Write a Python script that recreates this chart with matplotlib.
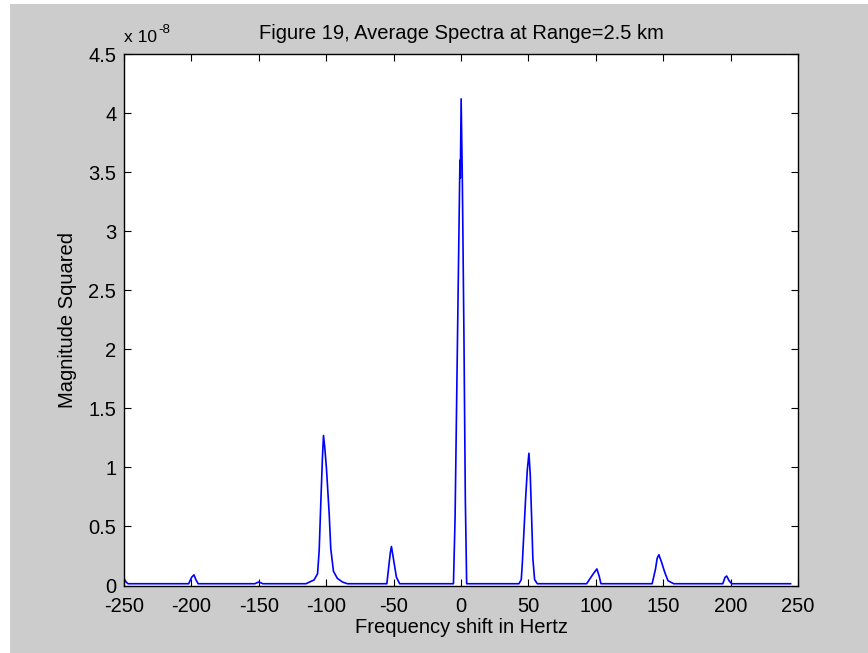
import matplotlib
matplotlib.use("Agg")
import matplotlib.pyplot as plt
from matplotlib.patches import Rectangle

plt.rcParams["font.family"] = ["Liberation Sans", "DejaVu Sans"]

# Averaged spectrum, magnitude squared in units of 1e-8
freq_hz = [
    -250, -248.5, -247,
    -202, -199.8, -198.1, -196.7, -195,
    -153, -150, -147,
    -115, -109, -106.4, -105.2, -104, -102.8, -102, -101, -99.8, -97.8,
    -96.6, -94.6, -91.7, -88, -84.3,
    -55, -53.6, -52.4, -51.6, -49.9, -47.9, -45.5,
    -5.6, -4.4, -3.2, -2.0, -0.8, -0.5, 0.1, 1.0, 2.2, 3.2, 4.2,
    43, 44.7, 45.5, 46.7, 47.9, 49.2, 50.4, 51.4, 52.4, 53.3, 54.6, 56.6,
    93.2, 96.4, 98.8, 100.8, 102.5, 103.8,
    141.8, 144.3, 145.5, 146.8, 148.7, 151.2, 153.6, 157.8,
    194.2, 195.9, 197.1, 198.9, 200.8,
    244.5,
]
mag_sq_e8 = [
    0.06, 0.03, 0.015,
    0.015, 0.07, 0.09, 0.05, 0.015,
    0.015, 0.03, 0.015,
    0.015, 0.047, 0.10, 0.30, 0.70, 1.08, 1.27, 1.16, 0.99, 0.61,
    0.31, 0.12, 0.06, 0.03, 0.015,
    0.015, 0.16, 0.28, 0.33, 0.21, 0.07, 0.015,
    0.015, 0.57, 1.585, 2.60, 3.60, 3.45, 4.12, 3.43, 2.09, 0.74, 0.015,
    0.015, 0.05, 0.19, 0.46, 0.73, 0.98, 1.12, 0.93, 0.57, 0.23, 0.05, 0.015,
    0.015, 0.07, 0.11, 0.14, 0.08, 0.015,
    0.015, 0.14, 0.23, 0.26, 0.20, 0.11, 0.04, 0.015,
    0.015, 0.07, 0.08, 0.04, 0.015,
    0.015,
]

x_ticks = [-250, -200, -150, -100, -50, 0, 50, 100, 150, 200, 250]
y_ticks = [0, 0.5, 1, 1.5, 2, 2.5, 3, 3.5, 4, 4.5]
y_tick_labels = ["0", "0.5", "1", "1.5", "2", "2.5", "3", "3.5", "4", "4.5"]

W, H = 868, 653
fig = plt.figure(figsize=(W / 100, H / 100), dpi=100, facecolor="white")
# grey window background
fig.patches.append(Rectangle((10 / W, 0), 1 - 10 / W, 1 - 4 / H,
                             transform=fig.transFigure, facecolor="#cccccc",
                             edgecolor="none", zorder=-10))

ax = fig.add_axes([124 / W, (H - 585.5) / H, (798 - 124) / W, (585.5 - 54) / H])
ax.set_facecolor("white")
ax.plot(freq_hz, mag_sq_e8, color="#0000ff", lw=1.2)

ax.set_xlim(-250, 250)
ax.set_ylim(0, 4.5)
ax.set_xticks(x_ticks)
ax.set_xticklabels([str(t) for t in x_ticks])
ax.set_yticks(y_ticks)
ax.set_yticklabels(y_tick_labels)

fs = 14.5
ax.tick_params(direction="in", top=True, right=True, length=5, width=0.8,
               labelsize=fs, colors="black")
ax.tick_params(axis="x", pad=8)
ax.tick_params(axis="y", pad=5.5)
for sp in ax.spines.values():
    sp.set_linewidth(1.0)

ax.set_xlabel("Frequency shift in Hertz", fontsize=fs, labelpad=2)
ax.set_ylabel("Magnitude Squared", fontsize=fs, labelpad=8)
ax.set_title("Figure 19, Average Spectra at Range=2.5 km", fontsize=fs, pad=11)

# exponent marker above the y axis
base = ax.text(0.0, 1.022, "x 10", transform=ax.transAxes, fontsize=12.5,
               ha="left", va="baseline")
ax.annotate("-8", xy=(1.0, 0.62), xycoords=base, xytext=(1, 0),
            textcoords="offset points", fontsize=9.5, ha="left", va="bottom")

fig.savefig("out.png", dpi=100, facecolor=fig.get_facecolor())
